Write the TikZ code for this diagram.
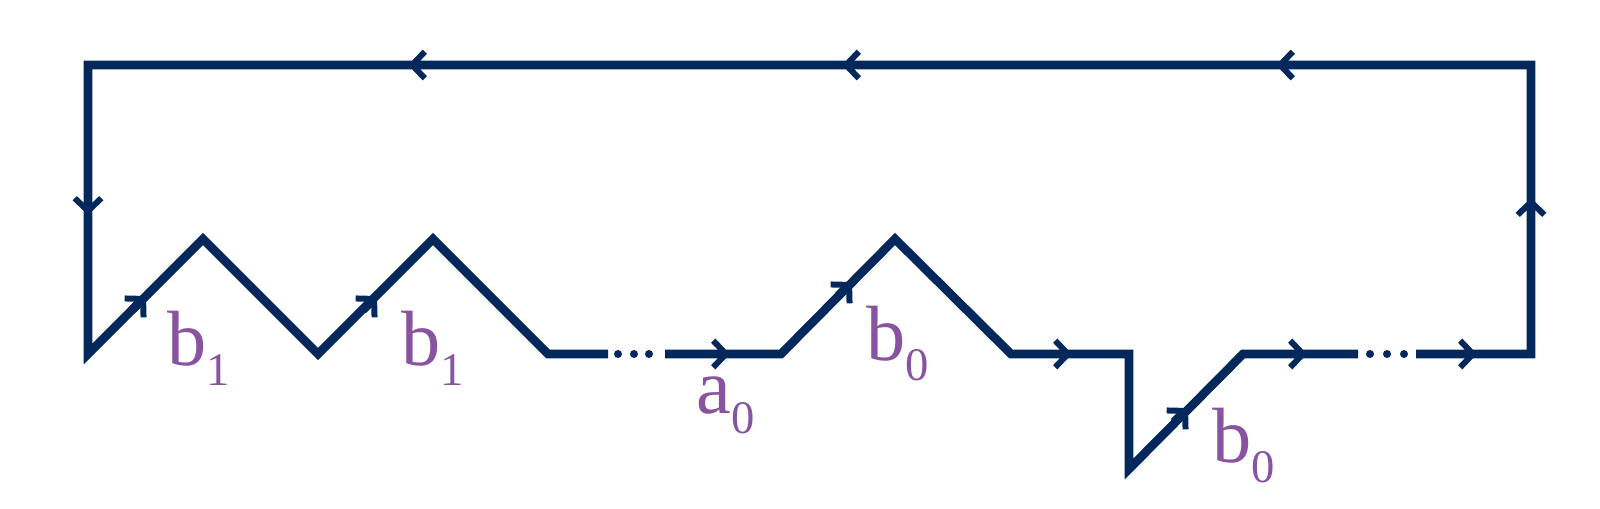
\documentclass[tikz,border=0pt]{standalone}
\usepackage{fontspec}
\setmainfont{Liberation Serif}
\usetikzlibrary{arrows.meta}

\definecolor{navy}{RGB}{4,40,92}
\definecolor{lab}{RGB}{136,84,160}

\tikzset{every picture/.style={line width=2.6pt}}
\tikzset{
  arr/.style={navy,-{Straight Barb[length=3.8pt,width=8pt,line width=1.8pt]}},
  dot/.style={fill=navy},
  labnode/.style={anchor=base west,inner sep=0pt,text=lab}
}
\newcommand{\glab}[2]{{\fontsize{23.5}{23.5}\selectfont #1\raisebox{-6pt}{\fontsize{14}{14}\selectfont #2}}}

\begin{document}
\begin{tikzpicture}[x=0.3pt,y=0.3pt,yscale=-1,xscale=1]
\useasboundingbox (0,0) rectangle (1600,509);

%Straight Lines: right part of the zigzag
\draw [navy,line join=miter] (665,354) -- (781,354) -- (895,239) -- (1011,354) -- (1129,354) -- (1129,469) -- (1243,354) -- (1358,354) ;
%Straight Lines: the loop back round
\draw [navy,line join=miter] (1416,354) -- (1531,354) -- (1531,65) -- (88,65) -- (88,354) -- (203,239) -- (318,354) -- (433,239) -- (548,354) -- (608,354) ;

%Dots
\fill [dot] (618,354) circle [radius=1.2pt] ;
\fill [dot] (634,354) circle [radius=1.2pt] ;
\fill [dot] (649,354) circle [radius=1.2pt] ;
\fill [dot] (1370,354) circle [radius=1.2pt] ;
\fill [dot] (1387,354) circle [radius=1.2pt] ;
\fill [dot] (1404,354) circle [radius=1.2pt] ;

%Arrows: top edge
\draw [arr] (428,65) -- (408,65) ;
\draw [arr] (862,65) -- (842,65) ;
\draw [arr] (1296,65) -- (1276,65) ;
%Arrows: sides
\draw [arr] (88,195) -- (88,215) ;
\draw [arr] (1531,218) -- (1531,198) ;
%Arrows: bottom edge
\draw [arr] (710,354) -- (730,354) ;
\draw [arr] (1052,354) -- (1072,354) ;
\draw [arr] (1287,354) -- (1307,354) ;
\draw [arr] (1457,354) -- (1477,354) ;
%Arrows: diagonals
\draw [arr] (132,310) -- (146,296) ;
\draw [arr] (363,310) -- (377,296) ;
\draw [arr] (838,296) -- (852,282) ;
\draw [arr] (1174,422) -- (1188,408) ;

% Text Node
\draw (163,365) node (b1a) [labnode] {\glab{b}{1}};
% Text Node
\draw (397,365) node (b1b) [labnode] {\glab{b}{1}};
% Text Node
\draw (692,413) node (a0) [labnode] {\glab{a}{0}};
% Text Node
\draw (862,360) node (b0a) [labnode] {\glab{b}{0}};
% Text Node
\draw (1208,462) node (b0b) [labnode] {\glab{b}{0}};

\end{tikzpicture}
\end{document}
